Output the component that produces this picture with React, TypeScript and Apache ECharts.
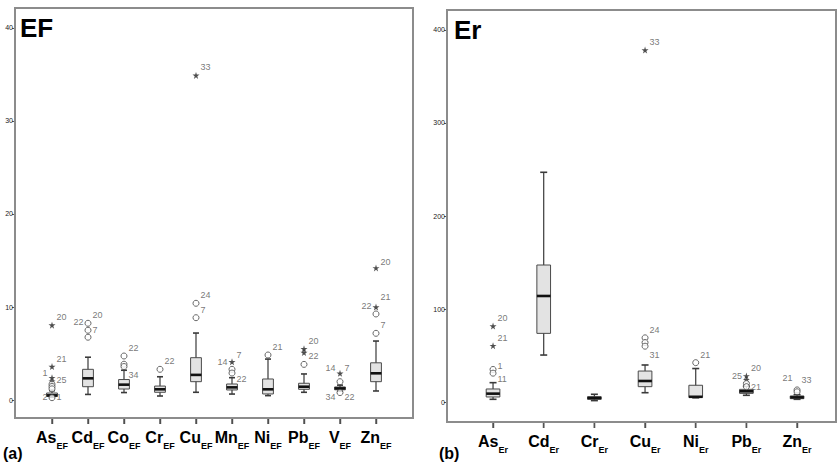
import React, { useEffect, useRef } from 'react';
import * as echarts from 'echarts';

// ---- Panel (a): EF ----
const efCats = ['As', 'Cd', 'Co', 'Cr', 'Cu', 'Mn', 'Ni', 'Pb', 'V', 'Zn'];
const efMin = [0.3, 0.6, 0.8, 0.43, 0.83, 0.64, 0.47, 0.83, 0.95, 0.97];
const efQ1 = [0.38, 1.43, 1.18, 0.83, 1.97, 1.08, 0.65, 1.15, 1.1, 1.97];
const efMed = [0.5, 2.33, 1.65, 1.15, 2.7, 1.36, 1.15, 1.43, 1.25, 2.87];
const efQ3 = [0.75, 3.3, 2.2, 1.5, 4.55, 1.72, 2.26, 1.8, 1.4, 4.0];
const efMax = [1.0, 4.6, 3.2, 2.5, 7.2, 2.4, 4.4, 2.8, 1.6, 6.34];
const efTicks = [0, 10, 20, 30, 40];
// [category, value, kind, right label, left label]
const efOutliers: [string, number, string, string, string][] = [
  ['As', 8.05, '*', '20', ''],
  ['As', 3.6, '*', '21', ''],
  ['As', 2.4, '*', '', '1'],
  ['As', 2.0, '*', '25', ''],
  ['As', 1.7, 'o', '', ''],
  ['As', 1.45, 'o', '', ''],
  ['As', 1.2, 'o', '', ''],
  ['As', 0.25, 'o', '1', '2'],
  ['Cd', 8.25, 'o', '20', '22'],
  ['Cd', 7.5, 'o', '7', ''],
  ['Cd', 6.75, 'o', '', ''],
  ['Co', 4.73, 'o', '22', ''],
  ['Co', 3.85, 'o', '', ''],
  ['Co', 3.6, 'o', '34', ''],
  ['Cr', 3.3, 'o', '22', ''],
  ['Cu', 34.9, '*', '33', ''],
  ['Cu', 10.4, 'o', '24', ''],
  ['Cu', 8.85, 'o', '7', ''],
  ['Mn', 4.1, '*', '7', '14'],
  ['Mn', 3.3, 'o', '', ''],
  ['Mn', 2.9, 'o', '22', ''],
  ['Ni', 4.84, 'o', '21', ''],
  ['Pb', 5.5, '*', '20', ''],
  ['Pb', 5.1, '*', '22', ''],
  ['Pb', 3.83, 'o', '', ''],
  ['V', 2.87, '*', '7', '14'],
  ['V', 1.97, 'o', '', ''],
  ['V', 0.8, 'o', '22', '34'],
  ['Zn', 14.2, '*', '20', ''],
  ['Zn', 10.0, '*', '21', '22'],
  ['Zn', 9.25, 'o', '', ''],
  ['Zn', 7.17, 'o', '7', ''],
];

// ---- Panel (b): Er ----
const erCats = ['As', 'Cd', 'Cr', 'Cu', 'Ni', 'Pb', 'Zn'];
const erMin = [2.9, 50.5, 1.5, 10, 4.5, 7.2, 2.9];
const erQ1 = [5.4, 73.8, 2.9, 16.5, 5, 9.3, 3.6];
const erMed = [9, 114, 4.3, 22.6, 5.6, 11.5, 5];
const erQ3 = [14, 147.3, 5.7, 33.3, 18, 13.6, 6.5];
const erMax = [20.8, 247, 8.3, 39.8, 36, 17, 7.9];
const erTicks = [0, 100, 200, 300, 400];
const erOutliers: [string, number, string, string, string][] = [
  ['As', 81.7, '*', '20', ''],
  ['As', 60.5, '*', '21', ''],
  ['As', 35, 'o', '1', ''],
  ['As', 31, 'o', '11', ''],
  ['Cu', 378.5, '*', '33', ''],
  ['Cu', 69, 'o', '24', ''],
  ['Cu', 64, 'o', '', ''],
  ['Cu', 60, 'o', '31', ''],
  ['Ni', 42.3, 'o', '21', ''],
  ['Pb', 28, '*', '20', '25'],
  ['Pb', 24, '*', '', ''],
  ['Pb', 20, 'o', '', ''],
  ['Pb', 16.5, 'o', '21', ''],
  ['Zn', 13, 'o', '33', '21'],
  ['Zn', 11, 'o', '', ''],
];

// axis ranges (value at plot bottom / top edge)
const efRange = [-1.935, 42.15];
const erRange = [-21.5, 421.5];

// label vertical placement tweaks (styling only): panel:cat:label:side -> dy
const labelDy: Record<string, number> = {
  'a:As:25:r': -1, 'a:As:1:r': -1, 'a:As:2:l': -1, 'a:As:1:l': -5,
  'a:Cd:22:l': -1, 'a:Cd:7:r': 0, 'a:Co:34:r': 8,
  'a:Mn:14:l': 0, 'a:Mn:7:r': -7, 'a:Mn:22:r': 6, 'a:Pb:22:r': 3,
  'a:V:14:l': -5, 'a:V:7:r': -5, 'a:V:34:l': 4, 'a:V:22:r': 4,
  'a:Zn:21:r': -10, 'a:Zn:22:l': -1, 'a:Zn:20:r': -6,
  'b:As:1:r': -3, 'b:As:11:r': 6, 'b:Cu:31:r': 9,
  'b:Pb:25:l': 0, 'b:Pb:21:r': 0, 'b:Zn:21:l': -12, 'b:Zn:33:r': -10,
};

const STAR = 'path://M50,0 L61,35 L98,35 L68,57 L79,91 L50,70 L21,91 L32,57 L2,35 L39,35 Z';
const FONT = '"Liberation Sans Narrow", "Liberation Sans", Arial, sans-serif';

function boxSeries(axisIdx: number, cats: string[], mn: number[], q1: number[], md: number[], q3: number[], mx: number[], frac: number, cap: number) {
  const data = cats.map((c, i) => [i, mn[i], q1[i], md[i], q3[i], mx[i]]);
  return {
    type: 'custom',
    xAxisIndex: axisIdx,
    yAxisIndex: axisIdx,
    encode: { x: 0, y: [1, 2, 3, 4, 5] },
    data,
    z: 2,
    renderItem: (params: any, api: any) => {
      const x = api.value(0);
      const lo = api.coord([x, api.value(1)]);
      const a = api.coord([x, api.value(2)]);
      const m = api.coord([x, api.value(3)]);
      const b = api.coord([x, api.value(4)]);
      const hi = api.coord([x, api.value(5)]);
      const bw = api.size([1, 0])[0] * frac;
      const cx = lo[0];
      const stroke = '#3a3a3a';
      return {
        type: 'group',
        children: [
          { type: 'line', shape: { x1: cx, y1: lo[1], x2: cx, y2: hi[1] }, style: { stroke, lineWidth: 1.2 } },
          { type: 'line', shape: { x1: cx - cap / 2, y1: lo[1], x2: cx + cap / 2, y2: lo[1] }, style: { stroke, lineWidth: 1.6 } },
          { type: 'line', shape: { x1: cx - cap / 2, y1: hi[1], x2: cx + cap / 2, y2: hi[1] }, style: { stroke, lineWidth: 1.6 } },
          { type: 'rect', shape: { x: cx - bw / 2, y: b[1], width: bw, height: Math.max(a[1] - b[1], 1) }, style: { fill: '#e3e3e3', stroke: '#4a4a4a', lineWidth: 1 } },
          { type: 'line', shape: { x1: cx - bw / 2, y1: m[1], x2: cx + bw / 2, y2: m[1] }, style: { stroke: '#111', lineWidth: 2.6 } },
        ],
      };
    },
  };
}

function outlierSeries(panel: string, axisIdx: number, list: [string, number, string, string, string][]) {
  const lblStyle = { fontSize: 9, color: '#555', fontFamily: FONT };
  const marks = list.map(([c, v, k, r]) => {
    const dy = labelDy[`${panel}:${c}:${r}:r`] ?? -8;
    return {
      value: [c, v],
      symbol: k === '*' ? STAR : 'circle',
      symbolSize: k === '*' ? 7 : 6,
      itemStyle: k === '*' ? { color: '#222' } : { color: '#fff', borderColor: '#444', borderWidth: 1 },
      label: { show: !!r, formatter: r, position: 'right', distance: 1, offset: [0, dy], ...lblStyle },
    };
  });
  const lefts = list.filter((o) => o[4]).map(([c, v, , , l]) => {
    const dy = labelDy[`${panel}:${c}:${l}:l`] ?? -1;
    return {
      value: [c, v],
      label: { show: true, formatter: l, position: 'left', distance: 4, offset: [0, dy], ...lblStyle },
    };
  });
  return [
    { type: 'scatter', xAxisIndex: axisIdx, yAxisIndex: axisIdx, data: marks, z: 3 },
    {
      type: 'scatter', xAxisIndex: axisIdx, yAxisIndex: axisIdx, data: lefts, symbol: 'circle', symbolSize: 1,
      itemStyle: { color: 'rgba(0,0,0,0)' }, z: 3,
    },
  ];
}

function xAxisCfg(idx: number, cats: string[], sub: string) {
  return {
    type: 'category',
    gridIndex: idx,
    data: cats,
    axisLine: { show: true, onZero: false, lineStyle: { color: '#8c8c8c', width: 2 } },
    axisTick: { show: true, inside: false, alignWithLabel: true, interval: 0, length: 6, lineStyle: { color: '#444', width: 1.4 } },
    axisLabel: {
      interval: 0,
      margin: 0,
      formatter: (v: string) => `{t| }\n{m|${v}}{s|${sub}}`,
      rich: {
        t: { width: 1.4, height: 6, lineHeight: 6, fontSize: 1, backgroundColor: '#555' },
        m: { fontSize: 16, fontWeight: 'bold', color: '#000', fontFamily: FONT, lineHeight: 26 },
        s: { fontSize: 9, fontWeight: 'bold', color: '#000', fontFamily: FONT, lineHeight: 26, verticalAlign: 'bottom', padding: [9, 0, 0, 0] },
      },
    },
    splitLine: { show: false },
  };
}

function yAxisCfg(idx: number, range: number[], ticks: number[], offset: number) {
  return {
    type: 'value',
    gridIndex: idx,
    min: range[0],
    max: range[1],
    offset,
    axisLine: { show: false },
    splitLine: { show: false },
    axisTick: { show: true, length: 3, customValues: ticks, lineStyle: { color: '#555' } },
    axisLabel: { customValues: ticks, fontSize: 7, margin: 2, color: '#222', fontFamily: FONT },
  };
}

export default function App() {
  const ref = useRef<HTMLDivElement>(null);
  useEffect(() => {
    if (!ref.current) return;
    const chart = echarts.init(ref.current, null, { renderer: 'svg' });
    const option: any = {
      animation: false,
      backgroundColor: '#fff',
      grid: [
        { left: 34, top: 8, width: 360, height: 410 },
        { left: 467.7, top: 10, width: 354.7, height: 412 },
      ],
      xAxis: [xAxisCfg(0, efCats, 'EF'), xAxisCfg(1, erCats, 'Er')],
      yAxis: [yAxisCfg(0, efRange, efTicks, 19), yAxisCfg(1, erRange, erTicks, 20.7)],
      series: [
        boxSeries(0, efCats, efMin, efQ1, efMed, efQ3, efMax, 0.3, 6),
        ...outlierSeries('a', 0, efOutliers),
        boxSeries(1, erCats, erMin, erQ1, erMed, erQ3, erMax, 0.27, 7),
        ...outlierSeries('b', 1, erOutliers),
      ],
      graphic: [
        { type: 'rect', shape: { x: 15, y: 8, width: 398, height: 410 }, style: { fill: 'none', stroke: '#8c8c8c', lineWidth: 2 }, z: 1 },
        { type: 'rect', shape: { x: 447, y: 10, width: 389, height: 412 }, style: { fill: 'none', stroke: '#8c8c8c', lineWidth: 2 }, z: 1 },
        { type: 'text', left: 20, top: 15, style: { text: 'EF', fontSize: 26, fontWeight: 'bold', fill: '#000', fontFamily: FONT } },
        { type: 'text', left: 454, top: 17, style: { text: 'Er', fontSize: 26, fontWeight: 'bold', fill: '#000', fontFamily: FONT } },
        { type: 'text', left: 3, top: 445, style: { text: '(a)', fontSize: 16, fontWeight: 'bold', fill: '#000', fontFamily: FONT } },
        { type: 'text', left: 439, top: 445, style: { text: '(b)', fontSize: 16, fontWeight: 'bold', fill: '#000', fontFamily: FONT } },
      ],
    };
    chart.setOption(option);
    return () => chart.dispose();
  }, []);
  return <div ref={ref} style={{ position: 'fixed', left: 0, top: 0, width: 838, height: 463 }} />;
}
